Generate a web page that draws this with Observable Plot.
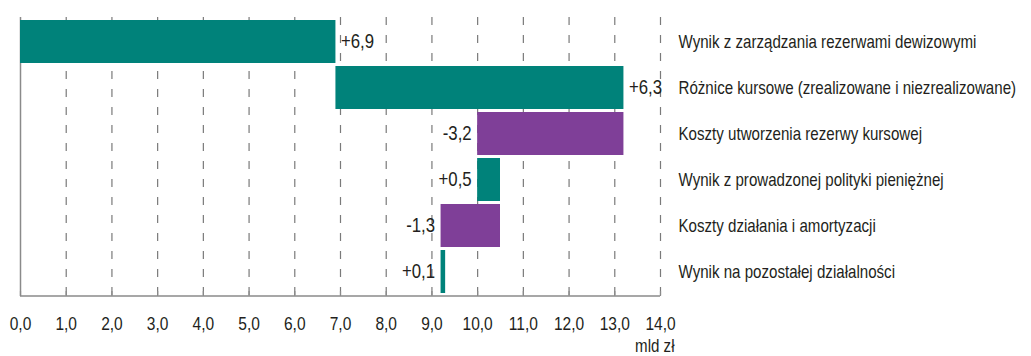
<!DOCTYPE html>
<html>
<head>
<meta charset="utf-8">
<script src="https://cdn.jsdelivr.net/npm/d3@7"></script>
<script src="https://cdn.jsdelivr.net/npm/@observablehq/plot@0.6"></script>
<style>
  html, body { margin: 0; padding: 0; background: #fff; }
  #chart svg { display: block; }
</style>
</head>
<body>
<div id="chart"></div>
<script>
// Components of the result (mld zł), in waterfall order
const categories = [
  "Wynik z zarządzania rezerwami dewizowymi",
  "Różnice kursowe (zrealizowane i niezrealizowane)",
  "Koszty utworzenia rezerwy kursowej",
  "Wynik z prowadzonej polityki pieniężnej",
  "Koszty działania i amortyzacji",
  "Wynik na pozostałej działalności"
];
const changes = [6.9, 6.3, -3.2, 0.5, -1.3, 0.1];
const labelSide = ["right", "right", "left", "left", "left", "left"];
const xTicks = d3.range(0, 15);

const TEAL = "#00827a";
const PURPLE = "#7f3f98";
const FONT = "'Liberation Sans', Arial, sans-serif";
const NARROW = 0.84; // horizontal squeeze giving a condensed face

// Running totals give each bar its start and end
let run = 0;
const rows = categories.map((name, i) => {
  const start = run;
  run += changes[i];
  const end = run;
  return {
    name,
    value: changes[i],
    x1: Math.min(start, end),
    x2: Math.max(start, end),
    side: labelSide[i],
    label: (changes[i] > 0 ? "+" : "-") + d3.format(".1f")(Math.abs(changes[i])).replace(".", ",")
  };
});

const fmt = d => d3.format(".1f")(d).replace(".", ",");

// Bottom baseline of the plot area
const baseline = (index, {x}, values, {height, marginBottom}) => {
  const y = height - marginBottom;
  return d3.create("svg:line")
    .attr("x1", x(0)).attr("x2", x(14))
    .attr("y1", y).attr("y2", y)
    .attr("stroke", "#8a8a8a").attr("stroke-width", 1.5)
    .node();
};

const chart = Plot.plot({
  width: 1031,
  height: 356,
  marginLeft: 20,
  marginRight: 371,
  marginTop: 17,
  marginBottom: 60,
  style: { fontFamily: FONT, fontSize: "18px", color: "#231f20", background: "#fff" },
  x: { domain: [0, 14] },
  y: { domain: categories, paddingInner: 0.07, paddingOuter: 0.035 },
  marks: [
    Plot.gridX(xTicks.filter(d => d > 0), {
      stroke: "#7a7a7a", strokeOpacity: 1, strokeWidth: 1.2, strokeDasharray: "8,10"
    }),
    Plot.ruleX([0], { stroke: "#8a8a8a", strokeWidth: 1.5 }),
    baseline,
    Plot.axisX(xTicks, {
      anchor: "bottom", tickSize: 5, dy: -5, text: null, stroke: "#8a8a8a", strokeWidth: 1.2, label: null
    }),
    Plot.axisX(xTicks, {
      anchor: "bottom", tickSize: 0, tickPadding: 20, tickFormat: fmt, fontSize: 18.5, label: null
    }),
    Plot.axisY({
      anchor: "right", tickSize: 0, tickPadding: 18, fontSize: 18, label: null, textAnchor: "start"
    }),
    Plot.barX(rows, {
      x1: "x1", x2: "x2", y: "name",
      fill: d => d.value >= 0 ? TEAL : PURPLE
    }),
    Plot.text(rows.filter(d => d.side === "right"), {
      x: "x2", y: "name", text: "label", textAnchor: "start", dx: 5, fontSize: 20, fill: "#231f20"
    }),
    Plot.text(rows.filter(d => d.side === "left"), {
      x: "x1", y: "name", text: "label", textAnchor: "end", dx: -6, fontSize: 20, fill: "#231f20"
    }),
    Plot.text(["mld zł"], {
      frameAnchor: "bottom-right", text: d => d, textAnchor: "end", lineAnchor: "bottom",
      dx: 14, dy: 55, fontSize: 18, fill: "#231f20"
    })
  ]
});

// Squeeze every label horizontally about its own anchor point
d3.select(chart).selectAll("text").each(function () {
  const t = d3.select(this);
  for (const a of ["x", "dx"]) {
    const v = t.attr(a);
    if (v != null && !isNaN(+v)) t.attr(a, +v / NARROW);
  }
  const tr = t.attr("transform") || "";
  t.attr("transform", (tr + ` scale(${NARROW},1)`).trim());
});

document.getElementById("chart").appendChild(chart);
</script>
</body>
</html>
